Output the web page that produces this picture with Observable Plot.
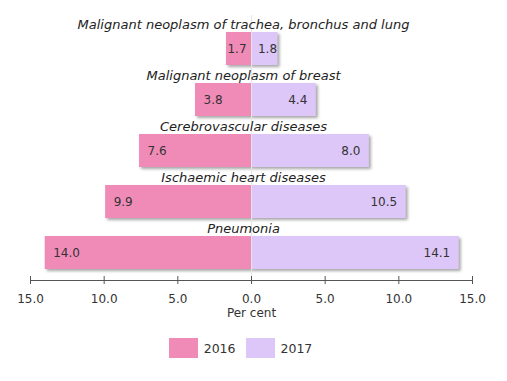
<!DOCTYPE html>
<html><head><meta charset="utf-8">
<script src="https://cdn.jsdelivr.net/npm/d3@7"></script>
<script src="https://cdn.jsdelivr.net/npm/@observablehq/plot@0.6"></script>
<style>
body{margin:0;background:#fff;font-family:"DejaVu Sans",sans-serif;}
#chart{width:507px;height:381px;position:relative;background:#fff;}
#chart svg g[aria-label="bar"] rect{filter:drop-shadow(2px 2px 1.5px rgba(0,0,0,0.35));}
.legend{position:absolute;left:0;top:338px;width:507px;display:flex;justify-content:center;align-items:center;font-size:12.5px;color:#333;margin-left:-13px;}
.legend .sw{width:29px;height:20px;display:inline-block;margin-right:6px;}
.legend .item{display:flex;align-items:center;margin:0 5px;}
</style></head><body><div id="chart"></div>
<script>
const categories = ["Malignant neoplasm of trachea, bronchus and lung","Malignant neoplasm of breast","Cerebrovascular diseases","Ischaemic heart diseases","Pneumonia"];
const values2016 = [1.7, 3.8, 7.6, 9.9, 14.0];
const values2017 = [1.8, 4.4, 8.0, 10.5, 14.1];
const seriesNames = ["2016", "2017"];
const colors = ["#F08BB8", "#DDC6F8"];
const xTicks = [-15, -10, -5, 0, 5, 10, 15];
const xLabel = "Per cent";

const rows = categories.map((c, i) => ({category: c, v2016: values2016[i], v2017: values2017[i]}));
const font = "DejaVu Sans, sans-serif";

const plot = Plot.plot({
  width: 507, height: 325,
  marginLeft: 30, marginRight: 35, marginTop: 15, marginBottom: 45,
  x: {domain: [-15, 15]},
  y: {domain: categories, range: [30.5, 270.5], paddingInner: 0.36, paddingOuter: 0, axis: null},
  style: {fontFamily: font, fontSize: "12px", color: "#333", background: "white", overflow: "visible"},
  marks: [
    Plot.barX(rows, {x1: 0, x2: d => -d.v2016, y: "category", fill: colors[0]}),
    Plot.barX(rows, {x1: 0, x2: "v2017", y: "category", fill: colors[1]}),
    Plot.ruleX([0], {stroke: "#e6e6e6"}),
    Plot.frame({anchor: "bottom", stroke: "#555"}),
    Plot.axisX({ticks: xTicks, tickSize: 8, dy: -4, fill: "none", stroke: "#555", label: null}),
    Plot.axisX({ticks: xTicks, tickSize: 0, tickPadding: 14, tickFormat: d => Math.abs(d).toFixed(1), label: null, fill: "#333", fontSize: 12}),
    Plot.text([xLabel], {frameAnchor: "bottom", dy: 36, text: d => d, fill: "#333", fontSize: 12}),
    Plot.text(rows, {x: 0, y: "category", text: "category", dy: -24, dx: -8, fontStyle: "italic", fill: "#222", fontSize: 13}),
    Plot.text(rows.filter(d => d.v2016 >= 2), {x: d => -d.v2016, y: "category", text: d => d.v2016.toFixed(1), textAnchor: "start", dx: 8, fill: "#333", fontSize: 12}),
    Plot.text(rows.filter(d => d.v2016 < 2), {x: d => -d.v2016, y: "category", text: d => d.v2016.toFixed(1), textAnchor: "start", dx: 1, fill: "#333", fontSize: 12}),
    Plot.text(rows.filter(d => d.v2017 >= 2), {x: "v2017", y: "category", text: d => d.v2017.toFixed(1), textAnchor: "end", dx: -9, fill: "#333", fontSize: 12}),
    Plot.text(rows.filter(d => d.v2017 < 2), {x: "v2017", y: "category", text: d => d.v2017.toFixed(1), textAnchor: "end", dx: -1, fill: "#333", fontSize: 12})
  ]
});
const chart = document.getElementById("chart");
chart.appendChild(plot);
const legend = document.createElement("div");
legend.className = "legend";
seriesNames.forEach((s, i) => {
  const item = document.createElement("span");
  item.className = "item";
  const sw = document.createElement("span");
  sw.className = "sw";
  sw.style.background = colors[i];
  const t = document.createElement("span");
  t.textContent = s;
  item.appendChild(sw); item.appendChild(t);
  legend.appendChild(item);
});
chart.appendChild(legend);
</script></body></html>
